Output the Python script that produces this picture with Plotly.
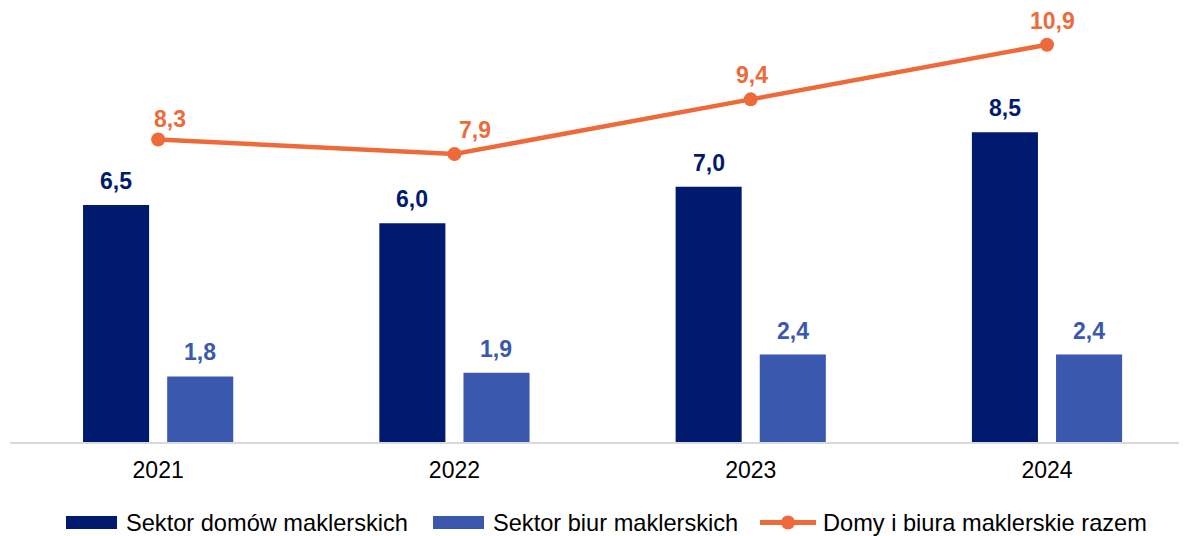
import plotly.graph_objects as go

years = ["2021", "2022", "2023", "2024"]
domy = [6.5, 6.0, 7.0, 8.5]
biura = [1.8, 1.9, 2.4, 2.4]
razem = [8.3, 7.9, 9.4, 10.9]

names = ["Sektor domów maklerskich", "Sektor biur maklerskich", "Domy i biura maklerskie razem"]

C_DARK = "#001A70"
C_LIGHT = "#3A58AE"
C_ORANGE = "#EF6A3A"
FONT = "Liberation Sans, Arial, sans-serif"

# figure geometry (page has an 8px body margin, so the figure is offset by 8px)
W, H = 1179, 528
ML, MR, MT, MB = 2, 0, 0, 94
PW, PH = W - ML - MR, H - MT - MB


def fmt(v):
    return f"{v:.1f}".replace(".", ",")


def px(x):
    return (x - ML) / PW


def py(y):
    return (H - MB - y) / PH


fig = go.Figure()
fig.add_trace(go.Bar(x=years, y=domy, name=names[0], marker_color=C_DARK, marker_line_width=0))
fig.add_trace(go.Bar(x=years, y=biura, name=names[1], marker_color=C_LIGHT, marker_line_width=0))
fig.add_trace(go.Scatter(x=years, y=razem, name=names[2], mode="lines+markers",
                         line=dict(color=C_ORANGE, width=4.5),
                         marker=dict(color=C_ORANGE, size=14)))

ann = []
bar_off = 42
for i, v in enumerate(domy):
    ann.append(dict(x=i, y=v, text=f"<b>{fmt(v)}</b>", showarrow=False, xshift=-bar_off,
                    yshift=24, yanchor="middle", font=dict(color=C_DARK, size=23, family=FONT)))
for i, v in enumerate(biura):
    ann.append(dict(x=i, y=v, text=f"<b>{fmt(v)}</b>", showarrow=False, xshift=bar_off,
                    yshift=24, yanchor="middle", font=dict(color=C_LIGHT, size=23, family=FONT)))
line_xshift = [12, 21, 1, 5]
line_yshift = [20, 24, 24, 24]
for i, (v, dx, dy) in enumerate(zip(razem, line_xshift, line_yshift)):
    ann.append(dict(x=i, y=v, text=f"<b>{fmt(v)}</b>", showarrow=False, xshift=dx,
                    yshift=dy, yanchor="middle", font=dict(color=C_ORANGE, size=23, family=FONT)))

# custom legend
LEG_Y = 514.5
shapes = []
leg_items = [
    ("rect", C_DARK, 58, 109, 116),
    ("rect", C_LIGHT, 425, 476, 483),
    ("line", C_ORANGE, 752, 808, 813),
]
for (kind, col, x0, x1, tx), name in zip(leg_items, names):
    if kind == "rect":
        shapes.append(dict(type="rect", xref="paper", yref="paper", x0=px(x0), x1=px(x1),
                           y0=py(LEG_Y - 6.5), y1=py(LEG_Y + 6.5), fillcolor=col, line_width=0))
    else:
        shapes.append(dict(type="line", xref="paper", yref="paper", x0=px(x0), x1=px(x1),
                           y0=py(LEG_Y), y1=py(LEG_Y), line=dict(color=col, width=5)))
        cx = (x0 + x1) / 2
        shapes.append(dict(type="circle", xref="paper", yref="paper", x0=px(cx - 7), x1=px(cx + 7),
                           y0=py(LEG_Y - 7), y1=py(LEG_Y + 7), fillcolor=col, line_width=0))
    ann.append(dict(xref="paper", yref="paper", x=px(tx), y=py(LEG_Y), text=name, showarrow=False,
                    xanchor="left", yanchor="middle", font=dict(size=23.6, family=FONT, color="#000000")))

fig.update_layout(
    width=W, height=H,
    margin=dict(l=ML, r=MR, t=MT, b=MB, autoexpand=False),
    paper_bgcolor="white", plot_bgcolor="white",
    barmode="group", bargap=0.432, bargroupgap=0.215,
    font=dict(family=FONT, size=23, color="#000000"),
    showlegend=False,
    annotations=ann,
    shapes=shapes,
)
fig.update_xaxes(type="category", range=[-0.5, 3.4725], showline=True, linecolor="#D9D9D9",
                 linewidth=1.5, showgrid=False, ticks="", ticklabelstandoff=7,
                 tickfont=dict(size=23, family=FONT, color="#000000"))
fig.update_yaxes(range=[0, PH / 36.45], visible=False, showgrid=False, zeroline=False)

fig.write_html("out.html")
